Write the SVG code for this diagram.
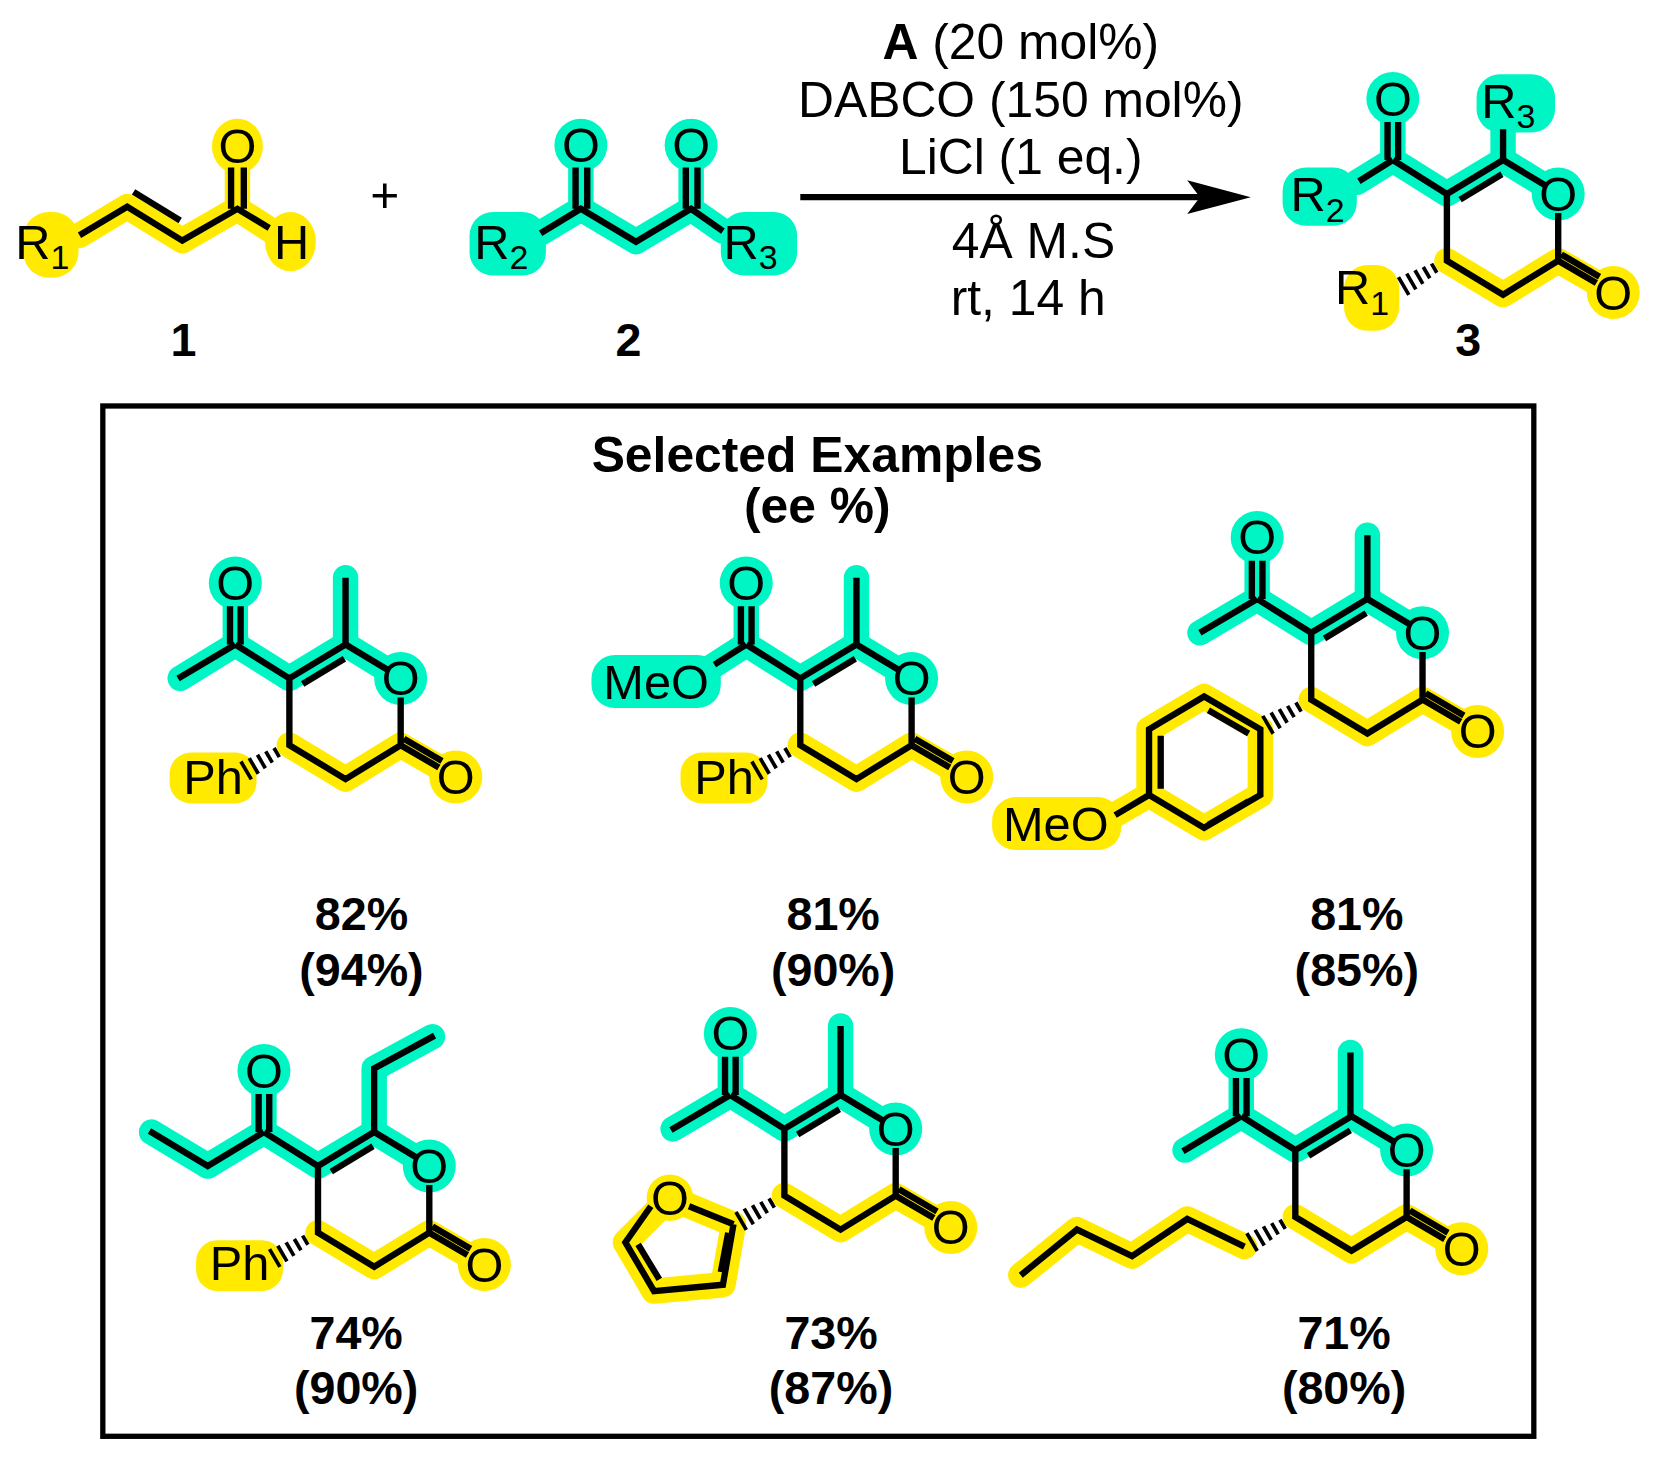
<svg xmlns="http://www.w3.org/2000/svg" xmlns:xlink="http://www.w3.org/1999/xlink" width="1664" height="1465" viewBox="0 0 1664 1465">
<style>
.b{stroke:#000;stroke-width:6;fill:none;stroke-linecap:butt;stroke-linejoin:miter}
.h{stroke-width:3.5}
.hy{stroke:#FFEA00;stroke-width:24;fill:none;stroke-linecap:round;stroke-linejoin:round}
.hc{stroke:#00F5C4;stroke-width:24;fill:none;stroke-linecap:round;stroke-linejoin:round}
.fy{fill:#FFEA00}.fc{fill:#00F5C4}
.t{font-family:"Liberation Sans",Arial,sans-serif;font-size:46px;text-anchor:middle;fill:#000}
.c{font-family:"Liberation Sans",Arial,sans-serif;font-size:47px;text-anchor:middle;fill:#000}
.bt{font-family:"Liberation Sans",Arial,sans-serif;font-size:44px;font-weight:bold;text-anchor:middle;fill:#000}
.tt{font-family:"Liberation Sans",Arial,sans-serif;font-size:47px;font-weight:bold;text-anchor:middle;fill:#000}
</style>
<defs>
<g id="hl">
<path class="hc" d="M-51,-90 L-51,-32 L0,0 L53,-32 L105,0"/>
<circle class="fc" cx="-51" cy="-90" r="25"/>
<circle class="fc" cx="105" cy="0" r="25"/>
<path class="hy" d="M0,63 L53,95 L105,63 L157,93"/>
<circle class="fy" cx="157" cy="93" r="25"/>
</g>
<g id="bd">
<path class="b" d="M0,0 L53,-32 L93,-8 M105,18 L105,63 L53,95 L0,63 L0,0 L-51,-32 M12.5,5.3 L51.9,-18.6 M105,63 L141,84 M108,57 L144,78 M-56,-32 L-56,-68 M-46,-32 L-46,-68"/>
<path class="b h" d="M-14.5,65.7 L-9.5,74.3 M-22.3,68.9 L-16.1,79.5 M-30.1,72 L-22.7,84.8 M-37.9,75.2 L-29.3,90 M-45.7,78.4 L-35.9,95.2"/>
<text class="t" x="-51" y="-74">O</text>
<text class="t" x="105" y="16">O</text>
<text class="t" x="157" y="109">O</text>
</g>
</defs>
<g transform="scale(1.06)">
<g id="reactant1">
<path class="hy" d="M75,222 L120,195 L172,227 L224,197 L224,140 M224,197 L272,228"/>
<rect class="fy" x="22" y="200" width="52" height="62" rx="24"/>
<ellipse class="fy" cx="224" cy="138" rx="24" ry="26"/>
<ellipse class="fy" cx="274" cy="228" rx="24" ry="28"/>
<path class="b" d="M75,222 L120,195 L172,227 L224,197 L254,215 M126,181 L170,208 M218,197 L218,158 M230,197 L230,158"/>
<text class="t" x="40" y="244">R<tspan font-size="32" dy="10">1</tspan></text>
<text class="t" x="224" y="154">O</text>
<text class="t" x="275" y="244">H</text>
<text class="bt" x="173" y="336">1</text>
</g>
<text class="c" x="363" y="200">+</text>
<g id="reactant2">
<path class="hc" d="M510,220 L548,197 L600,228 L652,197 L682,218 M548,197 L548,140 M652,197 L652,140"/>
<rect class="fc" x="443" y="200" width="72" height="60" rx="22"/>
<rect class="fc" x="680" y="200" width="72" height="60" rx="22"/>
<circle class="fc" cx="548" cy="137" r="25"/>
<circle class="fc" cx="652" cy="137" r="25"/>
<path class="b" d="M510,220 L548,197 L600,228 L652,197 L682,218 M543,197 L543,158 M554,197 L554,158 M647,197 L647,158 M658,197 L658,158"/>
<text class="t" x="473" y="244">R<tspan font-size="32" dy="10">2</tspan></text>
<text class="t" x="708" y="244">R<tspan font-size="32" dy="10">3</tspan></text>
<text class="t" x="548" y="153">O</text>
<text class="t" x="652" y="153">O</text>
<text class="bt" x="593" y="336">2</text>
</g>
<g id="arrow">
<path class="b" d="M755,186 L1140,186"/>
<path d="M1180,186 L1120,170 L1132,186 L1120,202 Z" fill="#000"/>
<text class="c" x="963" y="56"><tspan font-weight="bold">A</tspan> (20 mol%)</text>
<text class="c" x="963" y="110">DABCO (150 mol%)</text>
<text class="c" x="963" y="164">LiCl (1 eq.)</text>
<text class="c" x="975" y="243">4Å M.S</text>
<text class="c" x="970" y="297">rt, 14 h</text>
</g>
<g id="product3">
<use xlink:href="#hl" href="#hl" x="1365" y="183"/>
<path class="hc" d="M1314,151 L1280,172 M1418,151 L1418,120"/>
<rect class="fc" x="1210" y="158" width="70" height="55" rx="22"/>
<rect class="fc" x="1393" y="70" width="74" height="55" rx="22"/>
<rect class="fy" x="1268" y="250" width="52" height="62" rx="22"/>
<use xlink:href="#bd" href="#bd" x="1365" y="183"/>
<path class="b" d="M1314,151 L1282,171 M1418,151 L1418,122"/>
<text class="t" x="1243" y="199">R<tspan font-size="32" dy="10">2</tspan></text>
<text class="t" x="1423" y="111">R<tspan font-size="32" dy="10">3</tspan></text>
<text class="t" x="1285" y="287">R<tspan font-size="32" dy="10">1</tspan></text>
<text class="bt" x="1385" y="336">3</text>
</g>
<rect x="97" y="383" width="1350" height="972" fill="none" stroke="#000" stroke-width="5"/>
<text class="tt" x="771" y="445">Selected Examples</text>
<text class="tt" x="771" y="493">(ee %)</text>
<g id="ex1">
<use xlink:href="#hl" href="#hl" x="273" y="640"/>
<path class="hc" d="M222,608 L170,640 M326,608 L326,545"/>
<rect class="fy" x="160" y="710" width="82" height="48" rx="20"/>
<use xlink:href="#bd" href="#bd" x="273" y="640"/>
<path class="b" d="M222,608 L168,640 M326,608 L326,545"/>
<text class="t" x="201" y="749">Ph</text>
<text class="bt" x="341" y="877">82%</text>
<text class="bt" x="341" y="930">(94%)</text>
</g>
<g id="ex2">
<use xlink:href="#hl" href="#hl" x="755" y="640"/>
<path class="hc" d="M704,608 L670,630 M808,608 L808,545"/>
<rect class="fc" x="558" y="618" width="122" height="50" rx="22"/>
<rect class="fy" x="642" y="710" width="82" height="48" rx="20"/>
<use xlink:href="#bd" href="#bd" x="755" y="640"/>
<path class="b" d="M704,608 L674,627 M808,608 L808,545"/>
<text class="t" x="619" y="659">MeO</text>
<text class="t" x="683" y="749">Ph</text>
<text class="bt" x="786" y="877">81%</text>
<text class="bt" x="786" y="930">(90%)</text>
</g>
<g id="ex3">
<use xlink:href="#hl" href="#hl" x="1237" y="597"/>
<path class="hc" d="M1186,565 L1132,597 M1290,565 L1290,505"/>
<path class="hy" d="M1189,688 L1189,750 L1136,781 L1084,750 L1084,688 L1136,657 Z M1084,750 L1048,771"/>
<rect class="fy" x="936" y="752" width="122" height="50" rx="22"/>
<use xlink:href="#bd" href="#bd" x="1237" y="597"/>
<path class="b" d="M1186,565 L1132,597 M1290,565 L1290,505 M1189,688 L1189,750 L1136,781 L1084,750 L1084,688 L1136,657 Z M1084,750 L1052,769 M1178,756 L1140,778 M1095,694 L1095,744 M1140,670 L1178,692"/>
<text class="t" x="996" y="793">MeO</text>
<text class="bt" x="1280" y="877">81%</text>
<text class="bt" x="1280" y="930">(85%)</text>
</g>
<g id="ex4">
<use xlink:href="#hl" href="#hl" x="300" y="1100"/>
<path class="hc" d="M249,1068 L196,1100 L143,1068 M353,1068 L353,1008 L408,978"/>
<rect class="fy" x="185" y="1170" width="82" height="48" rx="20"/>
<use xlink:href="#bd" href="#bd" x="300" y="1100"/>
<path class="b" d="M249,1068 L196,1100 L141,1067 M353,1068 L353,1008 L410,977"/>
<text class="t" x="226" y="1208">Ph</text>
<text class="bt" x="336" y="1273">74%</text>
<text class="bt" x="336" y="1325">(90%)</text>
</g>
<g id="ex5">
<use xlink:href="#hl" href="#hl" x="740" y="1065"/>
<path class="hc" d="M689,1033 L635,1065 M793,1033 L793,968"/>
<path class="hy" d="M692,1155 L632,1130 L590,1172 L617,1218 L682,1212 Z"/>
<circle class="fy" cx="632" cy="1130" r="22"/>
<use xlink:href="#bd" href="#bd" x="740" y="1065"/>
<path class="b" d="M689,1033 L633,1066 M793,1033 L793,968 M692,1155 L650,1138 M614,1138 L590,1172 L617,1218 L682,1212 L692,1155 M602,1174 L622,1207 M680,1200 L687,1163"/>
<text class="t" x="632" y="1146">O</text>
<text class="bt" x="784" y="1273">73%</text>
<text class="bt" x="784" y="1325">(87%)</text>
</g>
<g id="ex6">
<use xlink:href="#hl" href="#hl" x="1222" y="1085"/>
<path class="hc" d="M1171,1053 L1118,1085 M1274,1053 L1274,993"/>
<path class="hy" d="M1174,1176 L1120,1150 L1068,1185 L1016,1160 L963,1203"/>
<use xlink:href="#bd" href="#bd" x="1222" y="1085"/>
<path class="b" d="M1171,1053 L1116,1086 M1274,1053 L1274,993 M1174,1176 L1120,1150 L1068,1185 L1016,1160 L963,1203"/>
<text class="bt" x="1268" y="1273">71%</text>
<text class="bt" x="1268" y="1325">(80%)</text>
</g>
</g>
</svg>
